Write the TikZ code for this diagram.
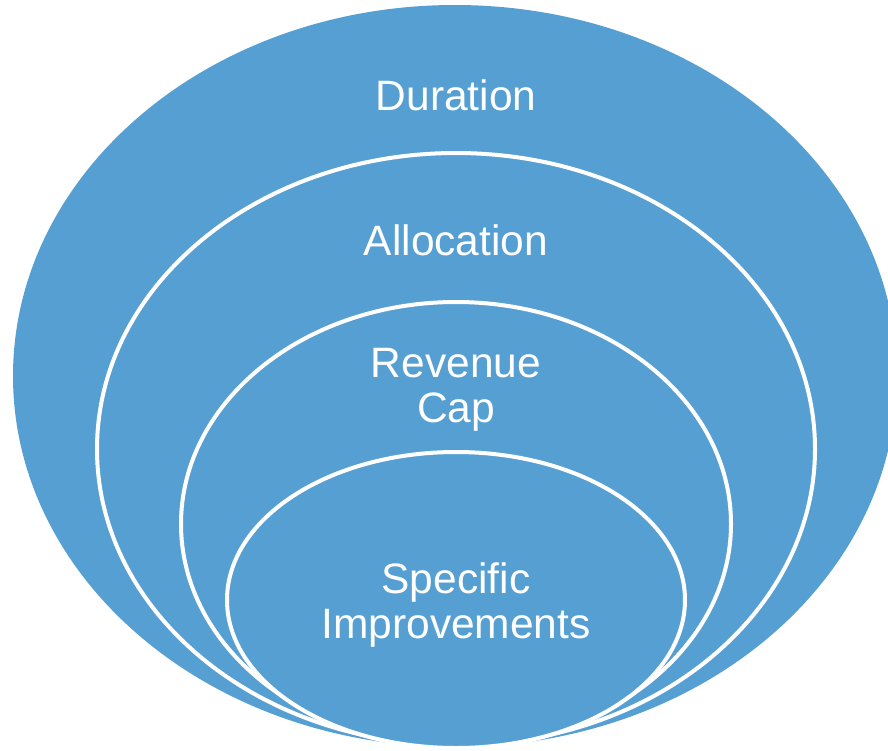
\documentclass[tikz,border=0pt]{standalone}
\usepackage{fontspec}
\setmainfont{Liberation Sans}
\definecolor{ringblue}{RGB}{86,159,210}
\begin{document}
\begin{tikzpicture}[x=1pt,y=-1pt,
  ring/.style={fill=ringblue,draw=white,line width=4pt},
  lbl/.style={text=white,font=\fontsize{42.5}{44.5}\selectfont,align=center,inner sep=0pt}]
\useasboundingbox (0,0) rectangle (888,750);
\clip (0,0) rectangle (888,750);
\fill[ringblue] (455,376) ellipse [x radius=442, y radius=371];
\draw[ring] (456,449) ellipse [x radius=359, y radius=296];
\draw[ring] (456,524) ellipse [x radius=275, y radius=222];
\draw[ring] (456,600) ellipse [x radius=229, y radius=148];
\node[lbl] (dur) at (456,95) {Duration};
\node[lbl] (alloc) at (456,240) {Allocation};
\node[lbl] (rev) at (456,390) {Revenue\\Cap};
\node[lbl] (spec) at (456,605) {Specific\\Improvements};
\end{tikzpicture}
\end{document}
